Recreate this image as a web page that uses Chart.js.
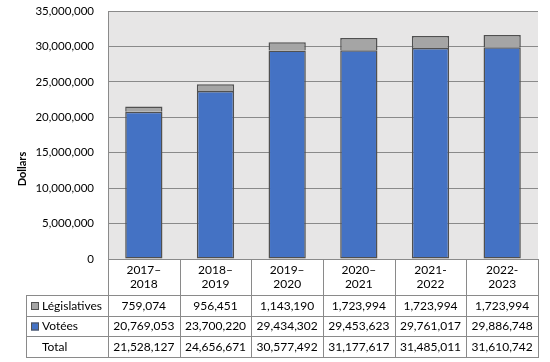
<!DOCTYPE html>
<html>
<head>
<meta charset="utf-8">
<script src="https://cdn.jsdelivr.net/npm/chart.js@4.4.1/dist/chart.umd.min.js"></script>
<style>
  html, body { margin: 0; padding: 0; background: #fff; }
  canvas { display: block; }
</style>
</head>
<body>
<canvas id="chart" width="550" height="362"></canvas>
<script>
// Data
const categories = [
  ['2017–', '2018'], ['2018–', '2019'], ['2019–', '2020'],
  ['2020–', '2021'], ['2021-', '2022'], ['2022-', '2023']
];
const legislatives = [759074, 956451, 1143190, 1723994, 1723994, 1723994];
const votees       = [20769053, 23700220, 29434302, 29453623, 29761017, 29886748];
const totals       = [21528127, 24656671, 30577492, 31177617, 31485011, 31610742];
const yTicks       = { min: 0, max: 35000000, step: 5000000 };

const C = {
  blue:   '#4472C4',
  gray:   '#A5A5A5',
  edge:   '#505050',
  plotBg: '#E7E6E6',
  grid:   '#8A8A8A',
  table:  '#8A8A8A',
  text:   '#000000',
};
const FONT = "Lato, 'Open Sans', sans-serif";

const fmt = v => v.toLocaleString('en-US');

// rows of the data table under the chart
const tableRows = [
  { label: 'Législatives', values: legislatives, marker: C.gray },
  { label: 'Votées',       values: votees,       marker: C.blue },
  { label: 'Total',        values: totals,       marker: null },
];

const plotBackground = {
  id: 'plotBackground',
  beforeDraw(chart) {
    const { ctx, chartArea: a } = chart;
    ctx.save();
    ctx.fillStyle = C.plotBg;
    ctx.fillRect(a.left, a.top, a.right - a.left, a.bottom - a.top);
    ctx.restore();
  }
};

const dataTable = {
  id: 'dataTable',
  afterDraw(chart) {
    const { ctx, chartArea: a } = chart;
    const x = chart.scales.x;
    const n = categories.length;
    const colW = (a.right - a.left) / n;
    const tableLeft = 26;
    const headTop = a.bottom;
    const rowTop = x.bottom;
    const rowH = 20.67;
    const ys = [0, 1, 2, 3].map(i => Math.round(rowTop + i * rowH));
    const bottom = ys[3];

    ctx.save();
    ctx.strokeStyle = C.table;
    ctx.lineWidth = 1;
    ctx.beginPath();
    // horizontal lines
    ys.forEach(y => { ctx.moveTo(tableLeft, y + 0.5); ctx.lineTo(a.right, y + 0.5); });
    // vertical lines
    ctx.moveTo(tableLeft + 0.5, rowTop); ctx.lineTo(tableLeft + 0.5, bottom + 1);
    for (let i = 0; i <= n; i++) {
      const xx = Math.round(a.left + i * colW) + 0.5;
      ctx.moveTo(xx, headTop); ctx.lineTo(xx, bottom + 1);
    }
    ctx.stroke();

    // cells
    ctx.font = `12px ${FONT}`;
    ctx.fillStyle = C.text;
    ctx.textBaseline = 'middle';
    tableRows.forEach((row, r) => {
      const cy = (ys[r] + ys[r + 1]) / 2 + 0.5;
      if (row.marker) {
        ctx.fillStyle = row.marker;
        ctx.fillRect(31, cy - 4, 8, 8);
        ctx.strokeStyle = C.edge;
        ctx.strokeRect(31.5, cy - 3.5, 7, 7);
      }
      ctx.fillStyle = C.text;
      ctx.textAlign = 'left';
      ctx.fillText(row.label, 42, cy);
      ctx.textAlign = 'center';
      row.values.forEach((v, i) => ctx.fillText(fmt(v), x.getPixelForValue(i), cy));
    });

    // y axis title
    ctx.translate(22, 169);
    ctx.rotate(-Math.PI / 2);
    ctx.font = `bold 11px ${FONT}`;
    ctx.textAlign = 'center';
    ctx.fillText('Dollars', 0, 0);
    ctx.restore();
  }
};

new Chart(document.getElementById('chart'), {
  type: 'bar',
  data: {
    labels: categories,
    datasets: [
      { label: 'Votées', data: votees, backgroundColor: C.blue,
        borderColor: C.edge, borderWidth: 1.5, borderSkipped: false },
      { label: 'Législatives', data: legislatives, backgroundColor: C.gray,
        borderColor: C.edge, borderWidth: 1.5, borderSkipped: 'bottom' },
    ],
  },
  options: {
    responsive: false,
    animation: false,
    layout: { padding: { top: 11, right: 12, bottom: 67, left: 0 } },
    plugins: { legend: { display: false }, tooltip: { enabled: false } },
    datasets: { bar: { categoryPercentage: 1, barPercentage: 0.52 } },
    scales: {
      x: {
        stacked: true,
        grid: { display: false, drawTicks: false },
        border: { display: false },
        ticks: { color: C.text, font: { family: FONT, size: 12 }, padding: 4, maxRotation: 0 },
        afterFit(scale) { scale.height = 36; },
      },
      y: {
        stacked: true,
        min: yTicks.min,
        max: yTicks.max,
        grid: { color: C.grid, drawTicks: false },
        border: { display: true, color: C.grid },
        ticks: {
          stepSize: yTicks.step,
          color: C.text,
          padding: 14,
          font: { family: FONT, size: 11.5 },
          callback: v => fmt(v),
        },
        // fixed axis width, no extra room above the top label
        afterFit(scale) { scale.width = 108; scale.paddingTop = 0; scale.paddingBottom = 0; },
      },
    },
  },
  plugins: [plotBackground, dataTable],
});
</script>
</body>
</html>
